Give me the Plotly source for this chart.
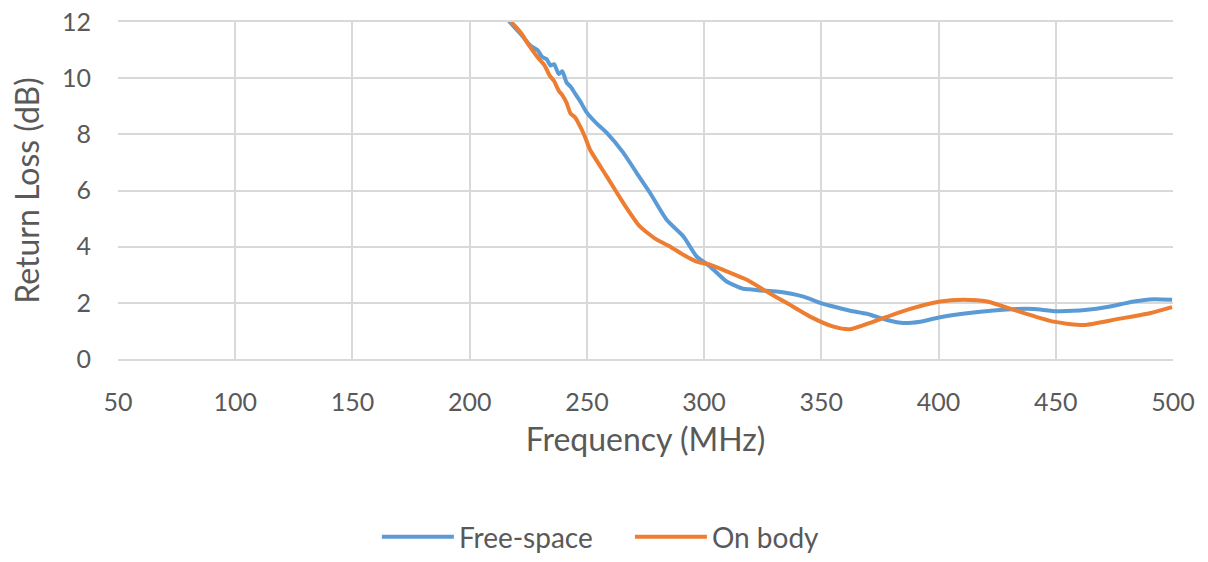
import plotly.graph_objects as go

# Free-space (blue)
fs_freq = [215, 217.1, 222, 226, 229, 231, 232.8, 234.5, 236, 238, 239.5, 241.3, 243, 245, 247, 249.9,
           254, 258.4, 265.5, 271.2, 276.9, 284.0, 291.1, 296.8, 302.5, 309.6, 316.7, 319.6,
           323.9, 331, 342.4, 349.5, 356, 362.3, 369.4, 378.0, 385.1, 392.2, 400.7,
           412.1, 423.5, 433.5, 440.6, 450.6, 463.4, 471.9, 483.3, 491.8, 499.6]
fs_rl = [12.25, 12.0, 11.55, 11.15, 11.0, 10.75, 10.68, 10.45, 10.5, 10.15, 10.25, 9.85, 9.7, 9.45, 9.2, 8.78,
         8.4, 8.06, 7.35, 6.63, 5.92, 4.96, 4.37, 3.65, 3.30, 2.76, 2.50, 2.48,
         2.44, 2.40, 2.22, 2.0, 1.85, 1.72, 1.61, 1.39, 1.28, 1.33, 1.49,
         1.63, 1.73, 1.78, 1.78, 1.70, 1.75, 1.85, 2.05, 2.13, 2.11]

# On body (orange)
ob_freq = [215, 217.8, 222, 225, 228.5, 230.5, 232, 234.2, 236, 238, 239.5, 241.3, 243, 245, 247.0,
           249, 251.3, 258.4, 265.5, 272.6, 279.8, 285.4, 291.1, 296.8, 302.5, 309.6,
           318.2, 326.7, 335.3, 345.2, 355.2, 362.3, 372.3, 386.5, 400.7, 410.7,
           420.7, 432.1, 449.1, 461.9, 476.2, 489.0, 499.6]
ob_rl = [12.3, 12.0, 11.6, 11.2, 10.8, 10.6, 10.45, 10.08, 9.9, 9.55, 9.4, 9.13, 8.75, 8.6, 8.30,
         7.95, 7.46, 6.51, 5.56, 4.72, 4.25, 4.01, 3.71, 3.47, 3.36, 3.12,
         2.82, 2.40, 1.99, 1.51, 1.15, 1.06, 1.33, 1.75, 2.05, 2.11,
         2.05, 1.75, 1.33, 1.21, 1.42, 1.61, 1.85]

x_ticks = [50, 100, 150, 200, 250, 300, 350, 400, 450, 500]
y_ticks = [0, 2, 4, 6, 8, 10, 12]

FONT = "Lato"
GRAY = "#595959"
GRID = "#d9d9d9"

fig = go.Figure()
fig.add_trace(go.Scatter(x=fs_freq, y=fs_rl, mode="lines", name="Free-space",
                         line=dict(color="#5B9BD5", width=4, shape="spline", smoothing=0.6)))
fig.add_trace(go.Scatter(x=ob_freq, y=ob_rl, mode="lines", name="On body",
                         line=dict(color="#ED7D31", width=4, shape="spline", smoothing=0.6)))

fig.update_layout(
    width=1208, height=562,
    margin=dict(l=118, r=35, t=22, b=203),
    paper_bgcolor="white", plot_bgcolor="white",
    font=dict(family=FONT, color=GRAY, size=25),
    showlegend=True,
    legend=dict(orientation="h", xref="container", yref="container",
                x=0.312, xanchor="left", y=-0.007, yanchor="bottom",
                entrywidth=166, entrywidthmode="pixels",
                font=dict(size=28, color=GRAY, family=FONT), itemwidth=72),
    xaxis=dict(range=[50, 500], tickvals=x_ticks, showgrid=True, gridcolor=GRID, gridwidth=1.5,
               zeroline=False, showline=True, mirror=True, linecolor=GRID, linewidth=1.5, automargin=False,
               ticks="", ticklabelstandoff=20, ticklabeloverflow="allow",
               tickfont=dict(size=25, color=GRAY, family=FONT),
               title=dict(text="Frequency (MHz)", font=dict(size=32, color=GRAY, family=FONT), standoff=14)),
    yaxis=dict(range=[0, 12], tickvals=y_ticks, showgrid=True, gridcolor=GRID, gridwidth=1.5,
               zeroline=False, showline=False, ticks="", ticklabelstandoff=26, automargin=False,
               ticklabeloverflow="allow",
               tickfont=dict(size=25, color=GRAY, family=FONT),
               title=dict(text="Return Loss (dB)", font=dict(size=32, color=GRAY, family=FONT), standoff=12)),
)

fig.write_html("out.html", config={"displayModeBar": False},
               post_script="document.body.style.margin='0px';")
